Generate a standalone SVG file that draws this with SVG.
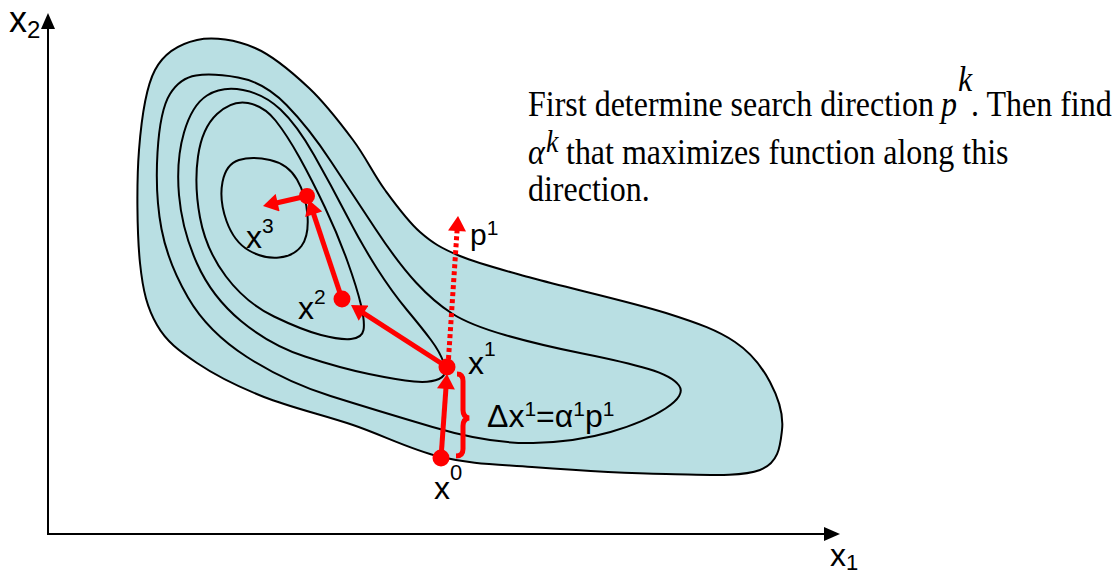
<svg xmlns="http://www.w3.org/2000/svg" width="1120" height="576" viewBox="0 0 1120 576">
<style>
.contour{fill:none;stroke:#000;stroke-width:2}
.outer{fill:#b9dfe3;stroke:#000;stroke-width:2}
.red{stroke:#ff0000;stroke-width:5;fill:none}
.dot{fill:#ff0000}
.lbl{font-family:"Liberation Sans",Arial,sans-serif;fill:#000}
.para{font-family:"Liberation Serif","Times New Roman",serif;font-size:32px;fill:#000}
.axis{stroke:#000;stroke-width:2;fill:none}
</style>
<defs>
<marker id="ra" markerUnits="userSpaceOnUse" markerWidth="16" markerHeight="18" viewBox="0 0 15 18" refX="7" refY="9" orient="auto">
<path d="M0,0 L15,9 L0,18 Z" fill="#ff0000"/>
</marker>
<marker id="ba" markerUnits="userSpaceOnUse" markerWidth="16" markerHeight="16" viewBox="0 0 16 16" refX="3" refY="8" orient="auto">
<path d="M0,1 L16,8 L0,15 Z" fill="#000"/>
</marker>
</defs>
<g id="surface">
<path class="outer" d="M197,40 C213.7,36.3 236.3,40 255,48 C273.7,56 292.7,72.7 309,88 C325.3,103.3 340.3,123 353,140 C365.7,157 373.8,174.7 385,190 C396.2,205.3 407.5,221 420,232 C432.5,243 441.3,248.3 460,256 C478.7,263.7 497.7,268.5 532,278 C566.3,287.5 632.2,302.3 666,313 C699.8,323.7 717.7,330.5 735,342 C752.3,353.5 762.2,367.3 770,382 C777.8,396.7 783.7,415.3 782,430 C780.3,444.7 779.3,462.7 760,470 C740.7,477.3 704,474.5 666,474 C628,473.5 569.5,469.8 532,467 C494.5,464.2 470.8,464 441,457 C411.2,450 382.5,435 353,425 C323.5,415 290,407.3 264,397 C238,386.7 214.8,375 197,363 C179.2,351 166.5,341.7 157,325 C147.5,308.3 143,292.2 140,263 C137,233.8 136.5,182.2 139,150 C141.5,117.8 145.3,88.3 155,70 C164.7,51.7 180.3,43.7 197,40 Z"/>
<path class="contour" d="M196,75.5 Q212,73 238,77.5 Q264,82 286.5,105 Q309,128 331,161.5 Q353,195 375.5,229 Q398,263 416,282.5 Q434,302 452,313.5 Q470,325 505,335 Q540,345 582.5,353.5 Q625,362 648.5,369 Q672,376 679,385.5 Q686,395 665.5,408.5 Q645,422 610.5,432 Q576,442 533,443 Q490,444 432.5,427 Q375,410 330.5,396 Q286,382 247,357 Q208,332 188,297.5 Q168,263 161.5,229 Q155,195 157.5,152.5 Q160,110 170,94 Q180,78 196,75.5 Z"/>
<path class="contour" d="M207,95.5 Q222,86 243,90 Q264,94 280.5,109.5 Q297,125 314,155 Q331,185 346.5,215 Q362,245 377,268.5 Q392,292 407,310 Q422,328 431,340 Q440,352 444,363.5 Q448,375 439,379 Q430,383 414,381.5 Q398,380 369,374 Q340,368 305,356.5 Q270,345 241,321 Q212,297 197,263.5 Q182,230 179,195 Q176,160 184,132.5 Q192,105 207,95.5 Z"/>
<path class="contour" d="M217,114 Q232,100 248,103 Q264,106 275.5,120.5 Q287,135 299.5,157.5 Q312,180 325,207.5 Q338,235 347.5,261.5 Q357,288 361,305 Q365,322 363.5,330 Q362,338 351,339 Q340,340 321,335 Q302,330 274,316.5 Q246,303 226,276.5 Q206,250 200,217.5 Q194,185 198,156.5 Q202,128 217,114 Z"/>
<path class="contour" d="M239,160 Q252,156 270,160 Q288,164 297,179.5 Q306,195 307.5,215.5 Q309,236 301.5,246 Q294,256 279,257.5 Q264,259 249,250.5 Q234,242 226.5,221 Q219,200 222.5,182 Q226,164 239,160 Z"/>
</g>
<g id="axes">
<line class="axis" x1="48" y1="535" x2="48" y2="26" marker-end="url(#ba)"/>
<line class="axis" x1="47" y1="534" x2="827" y2="534" marker-end="url(#ba)"/>
</g>
<g id="connectors">
<line class="red" x1="441" y1="458" x2="446.4" y2="382" marker-end="url(#ra)"/>
<line class="red" x1="447" y1="367" x2="357.7" y2="309.3" marker-end="url(#ra)"/>
<line class="red" x1="342" y1="299" x2="311.5" y2="207.6" marker-end="url(#ra)"/>
<line class="red" x1="307" y1="196" x2="270.8" y2="204.2" marker-end="url(#ra)"/>
<line class="red" x1="448" y1="366" x2="457.5" y2="224" stroke-width="4" stroke-dasharray="4 3" marker-end="url(#ra)"/>
<path class="red" stroke-width="3" d="M457,374 Q463,374 463,381 L463,410 Q463,417 469,418 Q463,419 463,426 L463,449 Q463,456 456,456"/>
</g>
<g id="x0"><circle class="dot" cx="441" cy="458" r="8.5"/>
<text class="lbl" x="434" y="499" font-size="32">x<tspan font-size="22" dy="-19">0</tspan></text></g>
<g id="x1"><circle class="dot" cx="447" cy="367" r="8.5"/>
<text class="lbl" x="468" y="374" font-size="32">x<tspan font-size="21" dy="-18">1</tspan></text></g>
<g id="x2"><circle class="dot" cx="342" cy="299" r="8.5"/>
<text class="lbl" x="298" y="319" font-size="32">x<tspan font-size="21" dy="-15">2</tspan></text></g>
<g id="x3"><circle class="dot" cx="307" cy="196" r="8"/>
<text class="lbl" x="246" y="248" font-size="32">x<tspan font-size="21" dy="-15">3</tspan></text></g>
<g id="p1"><text class="lbl" x="470" y="245" font-size="30">p<tspan font-size="21" dy="-10">1</tspan></text></g>
<g id="delta"><text class="lbl" x="487" y="427" font-size="32">Δx<tspan font-size="21" dy="-11">1</tspan><tspan dy="11">=α</tspan><tspan font-size="21" dy="-11">1</tspan><tspan dy="11">p</tspan><tspan font-size="21" dy="-11">1</tspan></text></g>
<g id="axislabels">
<text class="lbl" x="9" y="32" font-size="36">x<tspan font-size="24" dy="6">2</tspan></text>
<text class="lbl" x="830" y="566" font-size="32">x<tspan font-size="22" dy="4">1</tspan></text>
</g>
<g id="note">
<text class="para" x="528" y="116" transform="translate(0,116) scale(1,1.12) translate(0,-116)">First determine search direction <tspan x="941" font-style="italic">p</tspan><tspan x="958" y="94" font-style="italic">k</tspan><tspan x="971" y="116">. Then find</tspan></text>
<text class="para" x="528" y="164" transform="translate(0,164) scale(1,1.12) translate(0,-164)"><tspan font-style="italic">α</tspan><tspan x="546" y="153" font-size="28" font-style="italic">k</tspan><tspan x="566" y="164">that maximizes function along this</tspan></text>
<text class="para" x="528" y="201" transform="translate(0,201) scale(1,1.12) translate(0,-201)">direction.</text>
</g>
</svg>
